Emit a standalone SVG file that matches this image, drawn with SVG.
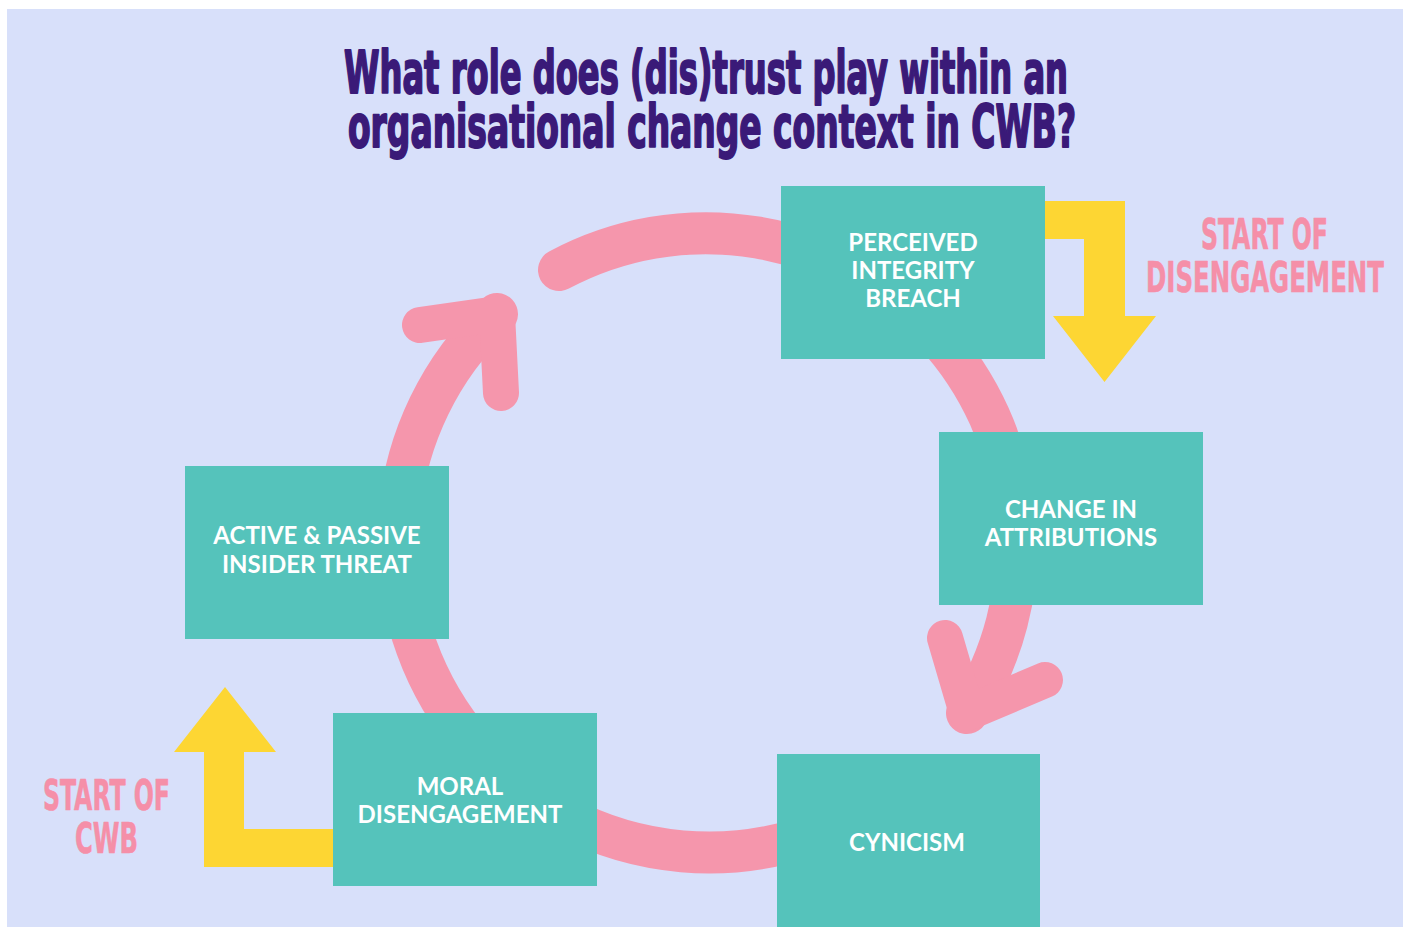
<svg xmlns="http://www.w3.org/2000/svg" width="1407" height="928" viewBox="0 0 1407 928">
<style>
.title{font-family:"DejaVu Sans Condensed","DejaVu Sans","Liberation Sans",sans-serif;font-stretch:condensed;font-weight:bold;font-size:58px;fill:#3a1a78;stroke:#3a1a78;stroke-width:2;stroke-linejoin:round}
.lbl{font-family:"DejaVu Sans Condensed","DejaVu Sans","Liberation Sans",sans-serif;font-stretch:condensed;font-weight:bold;font-size:43px;fill:#f58fa8;stroke:#f58fa8;stroke-width:0.6;stroke-linejoin:round}
.box{fill:#55c3bb}
.nt{font-family:Lato,"Liberation Sans",sans-serif;font-weight:bold;font-size:24px;fill:#ffffff;text-anchor:middle}
.ring{fill:none;stroke:#f596ac;stroke-width:42;stroke-linecap:round}
.head{fill:none;stroke:#f596ac;stroke-width:36;stroke-linecap:round;stroke-linejoin:round}
.yarrow{fill:#fdd633}
</style>
<rect x="0" y="0" width="1407" height="928" fill="#ffffff"/>
<rect x="7" y="9" width="1396" height="918" fill="#d8e0fa"/>
<g id="title">
<text class="title" x="344" y="93" textLength="724" lengthAdjust="spacingAndGlyphs">What role does (dis)trust play within an</text>
<text class="title" x="348" y="147" textLength="728" lengthAdjust="spacingAndGlyphs">organisational change context in CWB?</text>
</g>
<g id="connectors">
<path class="ring" d="M559,270 A311,311 0 0 1 967,713"/>
<path class="head" d="M945,638 L967,713 L1045,680"/>
<path class="ring" d="M905,783 A311,311 0 0 1 497,314"/>
<path class="head" d="M420,325 L497,314 L501,393"/>
<path class="yarrow" d="M1040,201 L1125,201 L1125,316 L1156,316 L1104.5,382 L1053,316 L1084,316 L1084,239 L1040,239 Z"/>
<path class="yarrow" d="M340,829 L244,829 L244,752 L276,752 L225,687 L174,752 L204,752 L204,867 L340,867 Z"/>
</g>
<g id="label-start-disengagement">
<text class="lbl" x="1201" y="249" textLength="127" lengthAdjust="spacingAndGlyphs">START OF</text>
<text class="lbl" x="1146" y="292" textLength="238" lengthAdjust="spacingAndGlyphs">DISENGAGEMENT</text>
</g>
<g id="label-start-cwb">
<text class="lbl" x="43" y="810" textLength="127" lengthAdjust="spacingAndGlyphs">START OF</text>
<text class="lbl" x="75" y="853" textLength="63" lengthAdjust="spacingAndGlyphs">CWB</text>
</g>
<g id="node-perceived">
<rect class="box" x="781" y="186" width="264" height="173"/>
<text class="nt" x="913" y="251">PERCEIVED</text>
<text class="nt" x="913" y="279">INTEGRITY</text>
<text class="nt" x="913" y="307">BREACH</text>
</g>
<g id="node-change">
<rect class="box" x="939" y="432" width="264" height="173"/>
<text class="nt" x="1071" y="518">CHANGE IN</text>
<text class="nt" x="1071" y="546">ATTRIBUTIONS</text>
</g>
<g id="node-cynicism">
<rect class="box" x="777" y="754" width="263" height="173"/>
<text class="nt" x="907" y="851">CYNICISM</text>
</g>
<g id="node-moral">
<rect class="box" x="333" y="713" width="264" height="173"/>
<text class="nt" x="460" y="795">MORAL</text>
<text class="nt" x="460" y="823">DISENGAGEMENT</text>
</g>
<g id="node-active">
<rect class="box" x="185" y="466" width="264" height="173"/>
<text class="nt" x="317" y="544">ACTIVE &amp; PASSIVE</text>
<text class="nt" x="317" y="573">INSIDER THREAT</text>
</g>
</svg>
